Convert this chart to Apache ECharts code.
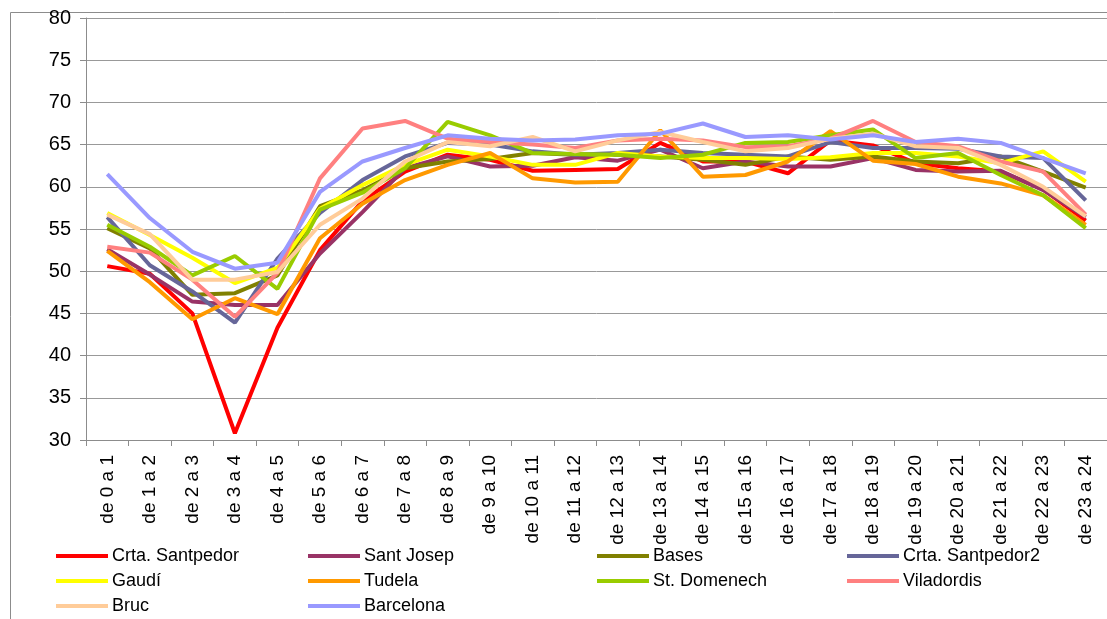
<!DOCTYPE html>
<html>
<head>
<meta charset="utf-8">
<script src="https://cdn.jsdelivr.net/npm/echarts@6/dist/echarts.min.js"></script>
<style>
  html, body { margin: 0; padding: 0; background: #fff; }
  #chart { width: 1107px; height: 619px; }
</style>
</head>
<body>
<div id="chart"></div>
<script>
const hours = [
  'de 0 a 1', 'de 1 a 2', 'de 2 a 3', 'de 3 a 4', 'de 4 a 5', 'de 5 a 6',
  'de 6 a 7', 'de 7 a 8', 'de 8 a 9', 'de 9 a 10', 'de 10 a 11', 'de 11 a 12',
  'de 12 a 13', 'de 13 a 14', 'de 14 a 15', 'de 15 a 16', 'de 16 a 17', 'de 17 a 18',
  'de 18 a 19', 'de 19 a 20', 'de 20 a 21', 'de 21 a 22', 'de 22 a 23', 'de 23 a 24'
]

const crtaSantpedor = [50.6, 49.7, 45.0, 30.8, 43.3, 52.5, 58.3, 61.8, 63.8, 63.2, 61.9, 62.0, 62.1, 65.2, 63.0, 63.0, 61.6, 65.5, 64.9, 62.8, 62.2, 61.8, 59.7, 56.0]
const santJosep = [52.6, 49.6, 46.4, 46.0, 46.0, 52.1, 57.0, 62.2, 63.6, 62.4, 62.5, 63.5, 63.1, 64.4, 62.2, 63.0, 62.4, 62.4, 63.4, 62.0, 61.8, 61.9, 59.6, 56.4]
const bases = [55.1, 52.7, 47.2, 47.4, 49.5, 57.7, 59.6, 62.2, 63.0, 63.3, 64.0, 63.8, 63.8, 63.6, 63.2, 62.6, 63.6, 63.2, 63.6, 63.0, 62.8, 63.6, 61.8, 59.9]
const crtaSantpedor2 = [56.4, 50.7, 47.6, 43.9, 51.5, 56.9, 60.8, 63.6, 65.2, 65.0, 64.2, 63.8, 64.0, 64.4, 64.0, 63.8, 63.6, 65.3, 64.6, 64.6, 64.5, 63.6, 63.4, 58.4]
const gaudi = [56.9, 54.3, 51.6, 48.6, 50.4, 57.4, 60.2, 62.6, 64.4, 63.6, 62.6, 62.6, 64.0, 63.6, 63.4, 63.4, 63.3, 63.5, 64.0, 64.0, 63.6, 62.8, 64.2, 60.6]
const tudela = [52.4, 48.7, 44.3, 46.8, 44.9, 53.9, 58.0, 60.8, 62.6, 64.0, 61.0, 60.5, 60.6, 66.7, 61.2, 61.4, 63.0, 66.6, 63.1, 62.7, 61.2, 60.4, 59.0, 55.5]
const stDomenech = [55.5, 52.9, 49.5, 51.8, 47.9, 57.3, 59.3, 62.2, 67.7, 66.1, 64.0, 63.9, 63.8, 63.4, 63.8, 65.2, 65.3, 66.1, 66.8, 63.4, 64.0, 61.4, 59.0, 55.1]
const viladordis = [52.9, 52.2, 49.0, 44.6, 49.8, 61.0, 66.9, 67.8, 65.7, 65.3, 65.0, 64.6, 65.5, 65.7, 65.5, 64.7, 64.8, 65.7, 67.8, 65.3, 64.8, 63.0, 61.8, 56.7]
const bruc = [56.7, 54.4, 49.0, 49.0, 49.9, 55.5, 58.6, 63.0, 65.3, 64.8, 65.9, 64.2, 65.5, 66.5, 65.3, 64.2, 64.6, 65.7, 66.3, 64.8, 64.6, 62.6, 60.0, 56.5]
const barcelona = [61.5, 56.3, 52.3, 50.3, 51.0, 59.4, 63.0, 64.6, 66.1, 65.7, 65.5, 65.6, 66.1, 66.3, 67.5, 65.9, 66.1, 65.6, 66.1, 65.3, 65.7, 65.2, 63.4, 61.6]

const yTicks = { min: 30, max: 80, step: 5 }

const seriesList = [
  { name: 'Crta. Santpedor', data: crtaSantpedor, color: '#FF0000' },
  { name: 'Sant Josep', data: santJosep, color: '#993366' },
  { name: 'Bases', data: bases, color: '#808000' },
  { name: 'Crta. Santpedor2', data: crtaSantpedor2, color: '#666699' },
  { name: 'Gaudí', data: gaudi, color: '#FFFF00' },
  { name: 'Tudela', data: tudela, color: '#FF9900' },
  { name: 'St. Domenech', data: stDomenech, color: '#99CC00' },
  { name: 'Viladordis', data: viladordis, color: '#FF8080' },
  { name: 'Bruc', data: bruc, color: '#FFCC99' },
  { name: 'Barcelona', data: barcelona, color: '#9999FF' }
]

const font = '"Liberation Sans", Arial, sans-serif'

function makeLegend(left, names) {
  return {
    orient: 'vertical',
    left: left,
    top: 546,
    icon: 'rect',
    itemWidth: 52,
    itemHeight: 4,
    itemGap: 5,
    padding: 0,
    textStyle: { fontFamily: font, fontSize: 18, color: '#000', lineHeight: 20, padding: [0, 0, 0, -1] },
    data: names
  }
}

const chart = echarts.init(document.getElementById('chart'))

chart.setOption({
  animation: false,
  backgroundColor: '#fff',
  graphic: [
    {
      type: 'rect',
      left: 8,
      top: 10,
      shape: { width: 1200, height: 700 },
      style: { fill: 'none', stroke: '#8c8c8c', lineWidth: 1 },
      silent: true
    }
  ],
  legend: [
    makeLegend(56, ['Crta. Santpedor', 'Gaudí', 'Bruc']),
    makeLegend(308, ['Sant Josep', 'Tudela', 'Barcelona']),
    makeLegend(597, ['Bases', 'St. Domenech']),
    makeLegend(847, ['Crta. Santpedor2', 'Viladordis'])
  ],
  grid: { left: 86, top: 18, width: 1032, height: 422, containLabel: false },
  xAxis: {
    type: 'category',
    data: hours,
    boundaryGap: true,
    axisLine: { lineStyle: { color: '#8c8c8c', width: 1 } },
    axisTick: { show: true, alignWithLabel: false, length: 6, lineStyle: { color: '#8c8c8c' } },
    axisLabel: {
      rotate: 90,
      interval: 0,
      margin: 15,
      fontFamily: font,
      fontSize: 19,
      color: '#000'
    }
  },
  yAxis: {
    type: 'value',
    min: yTicks.min,
    max: yTicks.max,
    interval: yTicks.step,
    axisLine: { show: true, lineStyle: { color: '#8c8c8c', width: 1 } },
    axisTick: { show: true, length: 6, lineStyle: { color: '#8c8c8c' } },
    splitLine: { lineStyle: { color: '#999', width: 1 } },
    axisLabel: { margin: 15, fontFamily: font, fontSize: 20, color: '#000' }
  },
  series: seriesList.map((s) => ({
    name: s.name,
    type: 'line',
    data: s.data,
    symbol: 'none',
    color: s.color,
    lineStyle: { color: s.color, width: 4 },
    itemStyle: { color: s.color }
  }))
})
</script>
</body>
</html>
